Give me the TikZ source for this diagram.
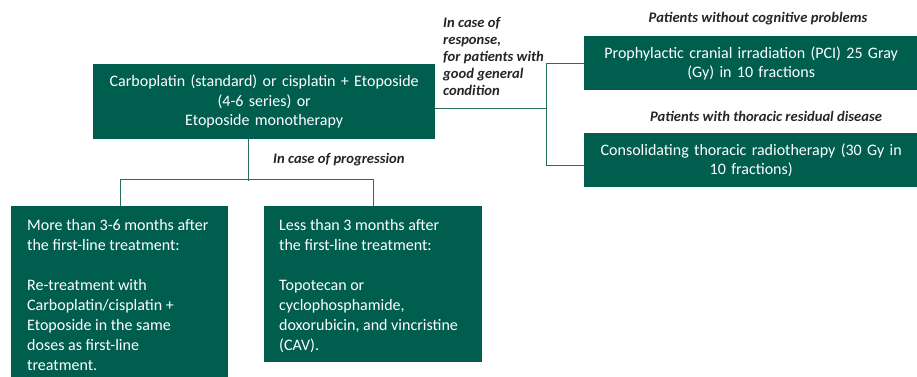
\documentclass[tikz,border=0pt]{standalone}
\usepackage{fontspec}
\setmainfont{Carlito}
\definecolor{boxgreen}{RGB}{0,94,79}
\definecolor{linegreen}{RGB}{40,110,95}
\begin{document}
\begin{tikzpicture}[x=1pt,y=1pt,
  box/.style={fill=boxgreen,draw=none,text=white,inner sep=0pt,anchor=north west,font=\fontsize{16}{19.5}\selectfont},
  boxtext/.style={text=white,inner sep=0pt,anchor=north west,align=left,font=\fontsize{16}{20}\selectfont},
  lbl/.style={inner sep=0pt,font=\fontsize{14.6}{17}\selectfont\bfseries\itshape,text=black!85},
  conn/.style={draw=linegreen,line width=0.9pt}]
\clip (0,0) rectangle (917,-376);
\fill[white] (0,0) rectangle (917,-376);
\node[box,minimum width=342pt,minimum height=75pt,text width=336pt,align=center] (main) at (93,-64)
  {Carboplatin (standard) or cisplatin + Etoposide\\(4-6 series) or\\Etoposide monotherapy};
\node[box,minimum width=334pt,minimum height=54pt,text width=326pt,align=center,font=\fontsize{16}{18.5}\selectfont] (pci) at (584,-36)
  {Prophylactic cranial irradiation (PCI) 25 Gray\\(Gy) in 10 fractions};
\node[box,minimum width=334pt,minimum height=54pt,text width=326pt,align=center,font=\fontsize{16}{18.5}\selectfont] (ctr) at (584,-133)
  {Consolidating thoracic radiotherapy (30 Gy in\\10 fractions)};
\node[box,minimum width=217pt,minimum height=178pt] (more) at (11,-206) {};
\node[boxtext] (moretext) at ([xshift=16pt,yshift=-13pt]more.north west)
  {More than 3-6 months after\\the first-line treatment:\\[20pt]Re-treatment with\\Carboplatin/cisplatin +\\Etoposide in the same\\doses as first-line\\treatment.};
\node[box,minimum width=218pt,minimum height=156pt] (less) at (264,-206) {};
\node[boxtext] (lesstext) at ([xshift=15pt,yshift=-13pt]less.north west)
  {Less than 3 months after\\the first-line treatment:\\[20pt]Topotecan or\\cyclophosphamide,\\doxorubicin, and vincristine\\(CAV).};
% labels
\node[lbl,anchor=north west,align=left] (resp) at (443,-17)
  {In case of\\response,\\for patients with\\good general\\condition};
\node[lbl,anchor=west] (prog) at (273,-160) {In case of progression};
\node[lbl] (cog) at (758,-19) {Patients without cognitive problems};
\node[lbl] (tho) at (766,-116) {Patients with thoracic residual disease};
% connectors
\coordinate (rj) at (546,-108);
\draw[conn] (main.east |- rj) -- (rj);
\draw[conn] (rj |- pci.west) -- (rj |- 0,-165);
\draw[conn] (rj |- pci.west) -- (pci.west);
\draw[conn] (rj |- 0,-165) -- (ctr.west |- 0,-165);
\coordinate (dj) at (248,-181);
\draw[conn] (dj |- main.south) -- (dj);
\draw[conn] (120,-179) -- (373,-179);
\draw[conn] (120,-179) -- (120,-206);
\draw[conn] (373,-179) -- (373,-206);
\end{tikzpicture}
\end{document}
